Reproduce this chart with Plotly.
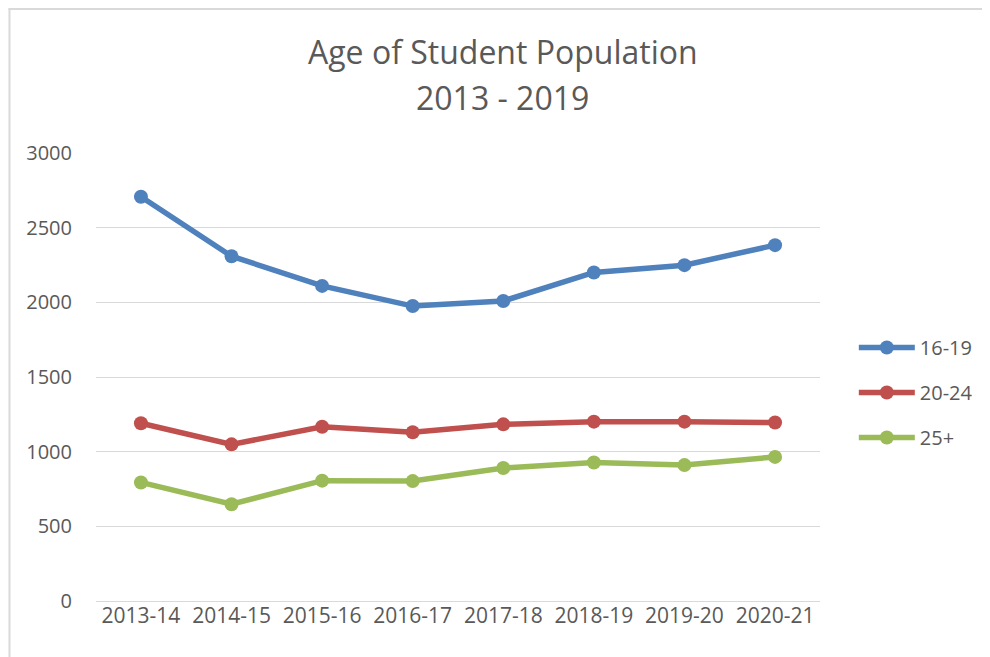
import plotly.graph_objects as go

years = ["2013-14", "2014-15", "2015-16", "2016-17", "2017-18", "2018-19", "2019-20", "2020-21"]
age_16_19 = [2707, 2309, 2110, 1975, 2009, 2200, 2249, 2383]
age_20_24 = [1190, 1049, 1167, 1130, 1183, 1201, 1201, 1195]
age_25_plus = [794, 648, 806, 803, 891, 927, 910, 965]

series_names = ["16-19", "20-24", "25+"]
series_colors = ["#4F81BD", "#C0504D", "#9BBB59"]
title_lines = ["Age of Student Population", "2013 - 2019"]

PAGE_W, PAGE_H = 990, 657
OFF = 8  # page body offset
W, H = PAGE_W - OFF, PAGE_H - OFF
ml, mr, mt, mb = 96 - OFF, 166, 153 - OFF, 56
pw, ph = W - ml - mr, H - mt - mb

fig = go.Figure()
for name, vals, col in zip(series_names, [age_16_19, age_20_24, age_25_plus], series_colors):
    fig.add_trace(go.Scatter(
        x=years, y=vals, name=name, mode="lines+markers",
        line=dict(color=col, width=5.5),
        marker=dict(color=col, size=14),
        legendgroup=name,
    ))

def px_x(p):
    return (p - OFF - ml) / pw

def px_y(p):
    return (H - mb - (p - OFF)) / ph

annotations = []
for txt, yc in zip(title_lines, [52, 98]):
    annotations.append(dict(
        text=txt, xref="paper", yref="paper", x=px_x(505), y=px_y(yc),
        xanchor="center", yanchor="middle", showarrow=False,
        font=dict(family="Open Sans", size=32, color="#595959"),
    ))

fig.update_layout(
    width=W, height=H,
    margin=dict(l=ml, r=mr, t=mt, b=mb),
    paper_bgcolor="white", plot_bgcolor="white",
    font=dict(family="Open Sans", color="#595959"),
    annotations=annotations,
    xaxis=dict(
        showgrid=False, showline=False, zeroline=False,
        tickfont=dict(size=21, color="#595959"), ticks="",
    ),
    yaxis=dict(
        range=[0, 3000], dtick=500, showgrid=True, gridcolor="#D9D9D9", gridwidth=1,
        zeroline=True, zerolinecolor="#D9D9D9", zerolinewidth=1,
        showline=False, ticks="", ticklabelstandoff=23,
        tickfont=dict(size=20, color="#595959"),
    ),
    legend=dict(
        x=px_x(858), y=px_y(328), xanchor="left", yanchor="top",
        font=dict(size=20, color="#595959"), itemwidth=56, tracegroupgap=16,
        bgcolor="rgba(0,0,0,0)",
    ),
    showlegend=True,
    shapes=[
        dict(type="line", xref="paper", yref="paper", x0=px_x(8), x1=px_x(PAGE_W + 2), y0=px_y(9), y1=px_y(9),
             line=dict(color="#D9D9D9", width=2)),
        dict(type="line", xref="paper", yref="paper", x0=px_x(9), x1=px_x(9), y0=px_y(8), y1=px_y(PAGE_H + 2),
             line=dict(color="#D9D9D9", width=2)),
    ],
)

fig.write_html("out.html")
